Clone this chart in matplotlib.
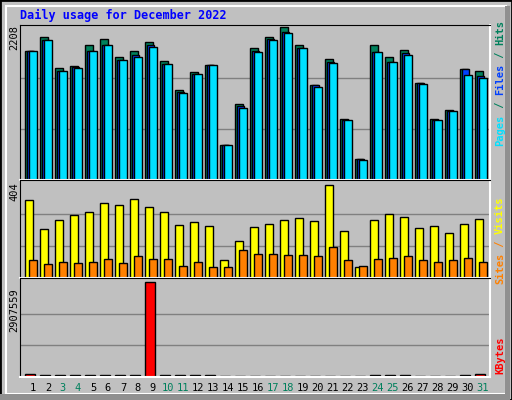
import numpy as np
import matplotlib
matplotlib.use('Agg')
import matplotlib.pyplot as plt
from matplotlib.patches import Rectangle

days = list(range(1, 32))
weekend = [3, 4, 10, 11, 17, 18, 24, 25, 31]

hits = [1857, 2060, 1612, 1640, 1940, 2030, 1770, 1860, 1990, 1712, 1300, 1560, 1655,
        500, 1090, 1900, 2060, 2208, 1945, 1370, 1735, 880, 300, 1942, 1770, 1870, 1400,
        880, 1010, 1600, 1570]
files = [1857, 2016, 1568, 1625, 1857, 1943, 1727, 1800, 1940, 1669, 1270, 1525, 1655,
         500, 1060, 1862, 2030, 2130, 1900, 1360, 1700, 870, 300, 1842, 1700, 1830, 1390,
         870, 1000, 1590, 1500]
pages = [1857, 2016, 1568, 1612, 1857, 1943, 1727, 1770, 1915, 1669, 1251, 1525, 1655,
         500, 1034, 1842, 2016, 2117, 1900, 1337, 1684, 861, 284, 1842, 1698, 1799, 1381,
         861, 991, 1511, 1467]
visits = [329, 206, 244, 265, 278, 316, 308, 333, 299, 278, 223, 235, 218, 74, 155, 214,
          227, 244, 252, 240, 393, 197, 48, 244, 269, 257, 210, 218, 189, 227, 248]
sites = [74, 57, 69, 65, 69, 78, 61, 91, 82, 82, 52, 69, 48, 48, 116, 99, 99, 95, 95, 91,
         129, 74, 52, 78, 86, 91, 74, 69, 74, 86, 69]
kbytes = [100000, 70000, 70000, 70000, 70000, 70000, 70000, 70000, 2907559, 70000, 70000,
          70000, 70000, 20000, 20000, 20000, 20000, 20000, 20000, 20000, 20000, 20000, 20000,
          70000, 70000, 70000, 20000, 20000, 20000, 70000, 100000]

BG = '#C0C0C0'
W, H = 512, 400
fig = plt.figure(figsize=(W / 100, H / 100), dpi=100, facecolor=BG)
mono = 'DejaVu Sans Mono'


def px_axes(x0, y0, x1, y1):
    return fig.add_axes([x0 / W, 1 - y1 / H, (x1 - x0) / W, (y1 - y0) / H])


# outer frame
fig.patches.append(Rectangle((0, 0), 1, 1, transform=fig.transFigure, fill=False,
                             edgecolor='black', linewidth=2))
fig.patches.append(Rectangle((6 / W, 6 / H), 1 - 12 / W, 1 - 12 / H, transform=fig.transFigure,
                             fill=False, edgecolor='white', linewidth=1.5))
fig.patches.append(Rectangle((505 / W, 0), 5 / W, 1 - 6 / H, transform=fig.transFigure,
                             color='#909090', linewidth=0))
fig.patches.append(Rectangle((0, 0), 1 - 2 / W, 6 / H, transform=fig.transFigure,
                             color='#909090', linewidth=0))

fig.text(20 / W, 1 - 15 / H, 'Daily usage for December 2022', color='#0000FF',
         family=mono, weight='bold', fontsize=8.5, va='center')

x = np.array(days, dtype=float)
xlim = (2 / 3, 32.0)


def style(ax, vmax, top_frac):
    ax.set_facecolor(BG)
    ax.set_xlim(*xlim)
    ax.set_ylim(0, vmax / top_frac)
    for v in (vmax / 3, 2 * vmax / 3):
        ax.axhline(v, color='#808080', linewidth=1, zorder=0)
    ax.set_xticks([])
    ax.set_yticks([])
    for s in ax.spines.values():
        s.set_color('black')
    ax.spines['bottom'].set_color('white')
    ax.spines['right'].set_color('white')
    ax.spines['bottom'].set_linewidth(1.5)
    ax.spines['right'].set_linewidth(1.5)


kw = dict(align='edge', edgecolor='black', linewidth=1, zorder=2)

# hits / files / pages
ax1 = px_axes(20, 25, 490, 180)
ax1.bar(x, hits, 0.5, color='#00805C', **kw)
ax1.bar(x + 0.13, files, 0.5, color='#0040FF', **kw)
ax1.bar(x + 0.27, pages, 0.5, color='#00E0FF', **kw)
style(ax1, max(hits), 0.99)
fig.text(14 / W, 1 - 38 / H, str(max(hits)), rotation=90, family=mono, fontsize=7.5,
         ha='center', va='center')

# visits / sites
ax2 = px_axes(20, 180, 490, 278)
ax2.bar(x, visits, 0.53, color='#FFFF00', **kw)
ax2.bar(x + 0.27, sites, 0.5, color='#FF8000', **kw)
style(ax2, 404, 0.98)
fig.text(14 / W, 1 - 192 / H, '404', rotation=90, family=mono, fontsize=7.5,
         ha='center', va='center')

# kbytes
ax3 = px_axes(20, 278, 490, 377)
ax3.bar(x, kbytes, 0.67, color='#FF0000', **kw)
style(ax3, max(kbytes), 0.96)
fig.text(14 / W, 1 - 310 / H, str(max(kbytes)), rotation=90, family=mono, fontsize=7.5,
         ha='center', va='center')

# day labels
for d in days:
    col = '#00805C' if d in weekend else 'black'
    xf = (20 + (d + 0.53 - xlim[0]) / (xlim[1] - xlim[0]) * 470) / W
    fig.text(xf, 1 - 388 / H, str(d), color=col, family=mono, fontsize=7.5,
             ha='center', va='center')

# right side legends
def right_label(parts, ymid):
    total = sum(len(p) for p, _ in parts)
    ch = 6.3
    y = ymid + total * ch / 2
    for txt, col in parts:
        fig.text(500 / W, 1 - (y - len(txt) * ch / 2) / H, txt, color=col, rotation=90,
                 family=mono, weight='bold', fontsize=7.5, ha='center', va='center')
        y -= len(txt) * ch


right_label([('Pages', '#00E0FF'), (' / ', '#00805C'), ('Files', '#0040FF'),
             (' / ', '#00805C'), ('Hits', '#00805C')], 83)
right_label([('Sites', '#FF8000'), (' / ', '#FF8000'), ('Visits', '#FFFF00')], 240)
right_label([('KBytes', '#FF0000')], 355)

fig.savefig('out.png', dpi=100, facecolor=BG)
